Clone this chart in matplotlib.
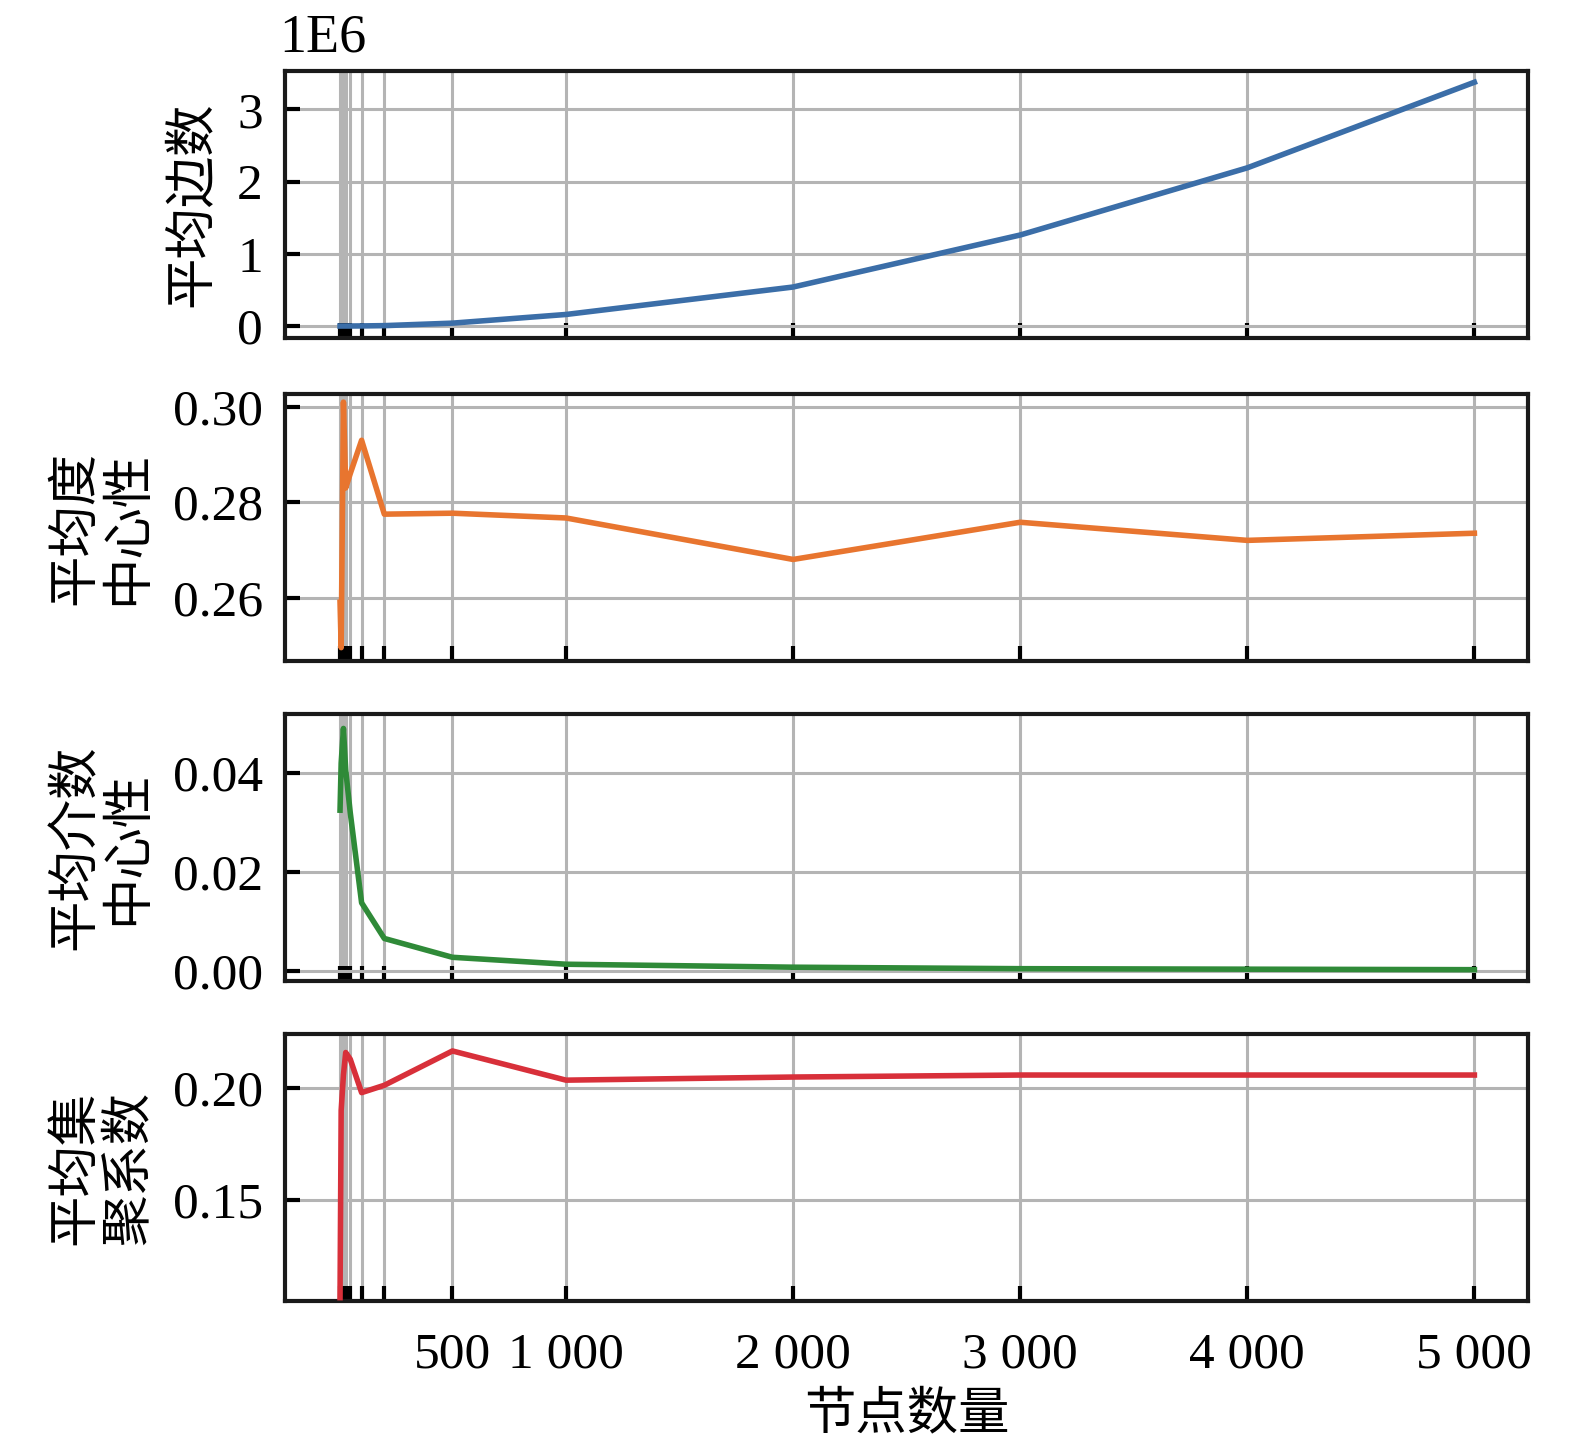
import numpy as np
import matplotlib
matplotlib.use("Agg")
import matplotlib.pyplot as plt

plt.rcParams['font.family'] = ['Liberation Serif', 'Noto Sans CJK SC', 'DejaVu Sans']

# node counts used in the experiment
nodes = [5, 10, 20, 30, 50, 100, 200, 500, 1000, 2000, 3000, 4000, 5000]

# metrics
avg_edges = [3, 11, 57, 120, 340, 1450, 5500, 40000, 160000, 540000, 1260000, 2190000, 3375000]
avg_degree_cent = [0.259, 0.2495, 0.301, 0.283, 0.286, 0.293, 0.2775,
                   0.2777, 0.2767, 0.268, 0.2758, 0.272, 0.2735]
avg_between_cent = [0.0325, 0.042, 0.049, 0.0406, 0.032, 0.0138, 0.0066,
                    0.0028, 0.0014, 0.0008, 0.0005, 0.0004, 0.0003]
avg_clustering = [0.106, 0.190, 0.206, 0.216, 0.213, 0.198, 0.2013,
                  0.2167, 0.2036, 0.205, 0.2059, 0.2059, 0.2059]

labels = ['平均边数', '平均度\n中心性', '平均介数\n中心性', '平均集\n聚系数']
colors = ['#3b6ea8', '#e8752f', '#2f8a38', '#d8303a']
yticks = [[0, 1, 2, 3], [0.26, 0.28, 0.30], [0.00, 0.02, 0.04], [0.15, 0.20]]
yfmt = ['{:.0f}', '{:.2f}', '{:.2f}', '{:.2f}']
ylims = [(-0.166, 3.53), (0.2467, 0.3027), (-0.002, 0.0519), (0.1045, 0.2243)]
series = [np.array(avg_edges) / 1e6, avg_degree_cent, avg_between_cent, avg_clustering]

fig = plt.figure(figsize=(15.75, 14.47), dpi=100)
left, width, height = 0.181, 0.789, 0.1845
bottoms = [0.7664, 0.5432, 0.3220, 0.1009]

fs = 37
axes = []
for i in range(4):
    ax = fig.add_axes([left, bottoms[i], width, height])
    axes.append(ax)
    ax.plot(nodes, series[i], color=colors[i], lw=4.0, zorder=3)
    ax.set_xlim(-237, 5235)
    ax.set_ylim(*ylims[i])
    ax.set_xticks(nodes)
    if i == 3:
        ax.set_xticklabels(['' if n < 500 else f'{n:,}'.replace(',', ' ') for n in nodes])
    else:
        ax.set_xticklabels([])
    ax.set_yticks(yticks[i])
    ax.set_yticklabels([yfmt[i].format(v) for v in yticks[i]])
    ax.grid(True, color='#b4b4b4', lw=2.2, zorder=0)
    ax.tick_params(direction='in', length=11, width=3.0, labelsize=fs,
                   top=False, right=False)
    ax.tick_params(axis='y', pad=16)
    ax.tick_params(axis='x', pad=22)
    for sp in ax.spines.values():
        sp.set_linewidth(3.0)
        sp.set_color('#1a1a1a')
    ax.set_ylabel(labels[i], fontsize=37, labelpad=14, linespacing=1.15)

axes[0].text(-0.005, 1.03, '1E6', transform=axes[0].transAxes, fontsize=39,
             ha='left', va='bottom')
axes[3].set_xlabel('节点数量', fontsize=37, labelpad=10)

fig.savefig('out.png', dpi=100)
